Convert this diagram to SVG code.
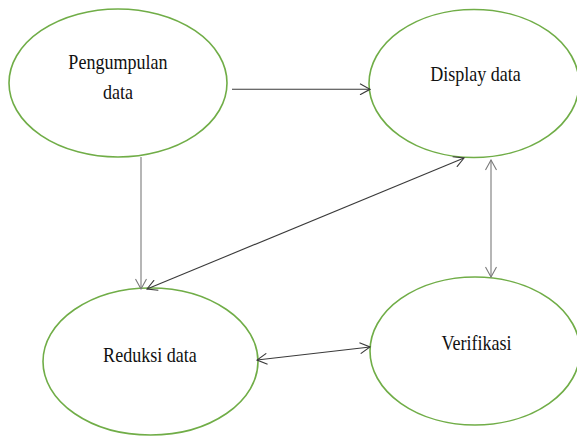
<svg xmlns="http://www.w3.org/2000/svg" width="577" height="437" viewBox="0 0 577 437">
<style>
.node ellipse{fill:#fff;stroke:#70AD47;stroke-width:1.6}
.node text{font-size:21px;fill:#111;text-anchor:middle}
.conn line{stroke:#3a3a3a;stroke-width:1.1;fill:none}
.conn line.light{stroke:#7a7a7a}
</style>
<defs>
<marker id="ah" viewBox="0 0 12 12" markerWidth="12" markerHeight="12" refX="11" refY="6" orient="auto-start-reverse" markerUnits="userSpaceOnUse">
<path d="M1,0.5 L11,6 L1,11.5" fill="none" stroke="#3a3a3a" stroke-width="1.1"/>
</marker>
<marker id="ahl" viewBox="0 0 12 12" markerWidth="12" markerHeight="12" refX="11" refY="6" orient="auto-start-reverse" markerUnits="userSpaceOnUse">
<path d="M1,0.5 L11,6 L1,11.5" fill="none" stroke="#7a7a7a" stroke-width="1.1"/>
</marker>
</defs>
<rect width="577" height="437" fill="#fff"/>
<g id="pengumpulan" class="node">
<ellipse cx="118" cy="83" rx="109" ry="74"/>
<text font-family="Liberation Serif, Times New Roman, serif" transform="translate(118 69) scale(0.86 1)">Pengumpulan</text>
<text font-family="Liberation Serif, Times New Roman, serif" transform="translate(118 99) scale(0.86 1)">data</text>
</g>
<g id="display" class="node">
<ellipse cx="474" cy="83.5" rx="105" ry="74"/>
<text font-family="Liberation Serif, Times New Roman, serif" transform="translate(475.5 81) scale(0.86 1)">Display data</text>
</g>
<g id="reduksi" class="node">
<ellipse cx="150.5" cy="361.5" rx="107.5" ry="73.5"/>
<text font-family="Liberation Serif, Times New Roman, serif" transform="translate(150 362) scale(0.86 1)">Reduksi data</text>
</g>
<g id="verifikasi" class="node">
<ellipse cx="475" cy="351" rx="105" ry="74"/>
<text font-family="Liberation Serif, Times New Roman, serif" transform="translate(476.5 350) scale(0.86 1)">Verifikasi</text>
</g>
<g id="connectors" class="conn">
<line x1="232" y1="89.3" x2="370" y2="89.3" marker-end="url(#ah)"/>
<line class="light" x1="141" y1="157" x2="141" y2="289" marker-end="url(#ahl)"/>
<line x1="147" y1="289" x2="464" y2="158" marker-start="url(#ah)" marker-end="url(#ah)"/>
<line class="light" x1="491" y1="160" x2="491" y2="277" marker-start="url(#ahl)" marker-end="url(#ahl)"/>
<line x1="257" y1="360" x2="370" y2="347" marker-start="url(#ah)" marker-end="url(#ah)"/>
</g>
</svg>
